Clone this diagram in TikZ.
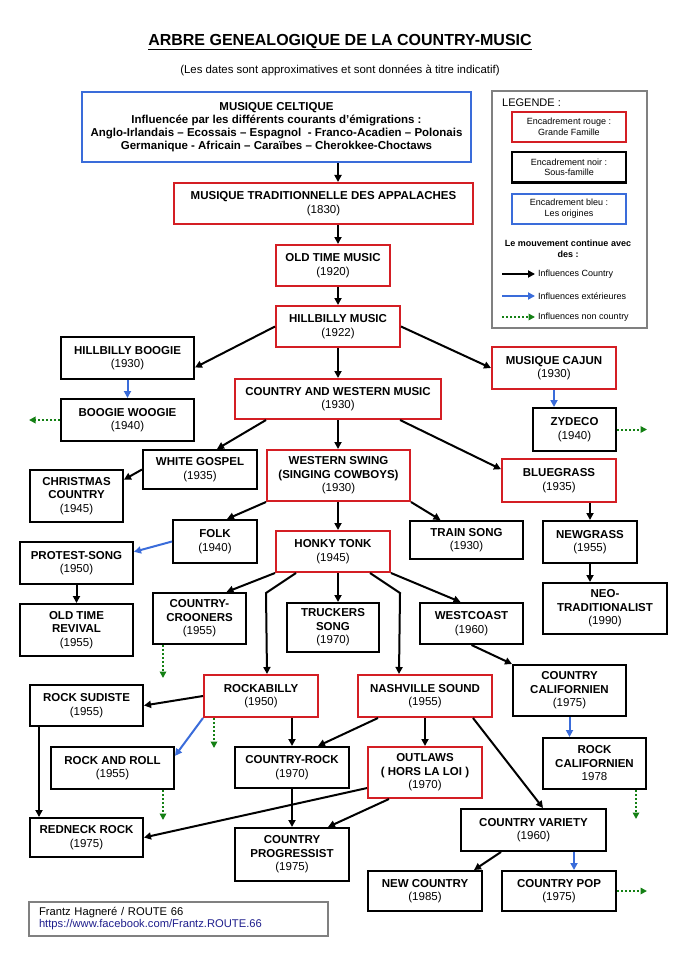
\documentclass[tikz,border=0pt]{standalone}
\usepackage{fontspec}
\setmainfont{Liberation Sans}
\usetikzlibrary{arrows.meta}
\definecolor{boxred}{RGB}{212,30,36}
\definecolor{boxblue}{RGB}{58,108,218}
\definecolor{arrowgreen}{RGB}{20,128,20}
\definecolor{framegray}{RGB}{128,128,128}
\definecolor{linkblue}{RGB}{30,30,140}
\begin{document}
\begin{tikzpicture}[x=1pt, y=-1pt]
  \tikzstyle{box} = [draw=black, line width=2pt, align=center, inner sep=2pt, font=\fontsize{11.5}{13.5}\selectfont\bfseries];
  \tikzstyle{red_box}   = [box, draw=boxred];
  \tikzstyle{black_box} = [box];
  \tikzstyle{blue_box}  = [box, draw=boxblue];
  \tikzstyle{leg_box}   = [draw=black, line width=2pt, minimum width=114, minimum height=30, align=center, font=\fontsize{9}{10.5}\selectfont];
  \tikzstyle{leg_text}  = [anchor=west, inner sep=0pt, font=\fontsize{9}{10.5}\selectfont];
  \tikzstyle{black_arrow} = [line width=2pt, -{Triangle[length=7pt,width=7pt]}];
  \tikzstyle{blue_arrow}  = [black_arrow, color=boxblue];
  \tikzstyle{green_arrow} = [line width=2pt, color=arrowgreen, dotted, -{Triangle[length=6.5pt,width=6.5pt]}];

  \useasboundingbox (0,0) rectangle (679,960);
  \coordinate (spine) at (338,0);

  \node[font=\fontsize{16}{19}\selectfont\bfseries] (title) at (340,42) {\underline{ARBRE GENEALOGIQUE DE LA COUNTRY-MUSIC}};
  \node[font=\fontsize{11.4}{13}\selectfont] (subtitle) at (340,70) {(Les dates sont approximatives et sont données à titre indicatif)};

  \node[draw=framegray, line width=2pt, minimum width=155, minimum height=236] (legend) at (569,209.5) {};
  \node[leg_text, font=\fontsize{11}{13}\selectfont] (legtitle) at (502,103) {LEGENDE :};
  \node[leg_box, draw=boxred]  (legred)   at (569,127)   {Encadrement rouge :\\Grande Famille};
  \node[leg_box]               (legblack) at (569,167.5) {Encadrement noir :\\Sous-famille};
  \node[leg_box, draw=boxblue] (legblue)  at (569,208.5) {Encadrement bleu :\\Les origines};
  \node[align=center, font=\fontsize{9}{10.5}\selectfont\bfseries] (legmove) at (568,249) {Le mouvement continue avec\\des :};
  \node[leg_text] (legcountry) at (538,274) {Influences Country};
  \node[leg_text] (legext)     at (538,296) {Influences extérieures};
  \node[leg_text] (legnon)     at (538,317) {Influences non country};
  \draw[black_arrow] ([xshift=-36]legcountry.west) -- ([xshift=-3]legcountry.west);
  \draw[blue_arrow]  ([xshift=-36]legext.west) -- ([xshift=-3]legext.west);
  \draw[green_arrow] ([xshift=-36]legnon.west) -- ([xshift=-3]legnon.west);

  \node[blue_box, minimum width=389, minimum height=70, font=\fontsize{11.5}{13}\selectfont\bfseries] (celt) at (276.5,127) {MUSIQUE CELTIQUE\\Influencée par les différents courants d’émigrations :\\Anglo-Irlandais – Ecossais – Espagnol~ - Franco-Acadien – Polonais\\Germanique - Africain – Caraïbes – Cherokkee-Choctaws};
  \node[red_box, minimum width=299, minimum height=41] (app)  at (323.5,203.5) {MUSIQUE TRADITIONNELLE DES APPALACHES\\\mdseries(1830)};
  \node[red_box, minimum width=114, minimum height=41] (otm)  at (333,265.5) {OLD TIME MUSIC\\\mdseries(1920)};
  \node[red_box, minimum width=124, minimum height=41] (hm)   at (338,326.5) {HILLBILLY MUSIC\\\mdseries(1922)};
  \node[black_box, minimum width=133, minimum height=42] (hb) at (127.5,358) {HILLBILLY BOOGIE\\\mdseries(1930)};
  \node[black_box, minimum width=133, minimum height=42] (bw) at (127.5,420) {BOOGIE WOOGIE\\\mdseries(1940)};
  \node[red_box, minimum width=124, minimum height=42] (cajun) at (554,368) {MUSIQUE CAJUN\\\mdseries(1930)};
  \node[black_box, minimum width=83, minimum height=43] (zyd) at (574.5,429.5) {ZYDECO\\\mdseries(1940)};
  \node[red_box, minimum width=206, minimum height=40] (cw)   at (338,399) {COUNTRY AND WESTERN MUSIC\\\mdseries(1930)};
  \node[black_box, minimum width=114, minimum height=39] (wg) at (200,469.5) {WHITE GOSPEL\\\mdseries(1935)};
  \node[black_box, minimum width=93, minimum height=52] (xmas) at (76.5,496) {CHRISTMAS\\COUNTRY\\\mdseries(1945)};
  \node[red_box, minimum width=143, minimum height=51] (ws)   at (338.5,475.5) {WESTERN SWING\\(SINGING COWBOYS)\\\mdseries(1930)};
  \node[red_box, minimum width=114, minimum height=43] (bgr)  at (559,480.5) {BLUEGRASS\\\mdseries(1935)};
  \node[black_box, minimum width=84, minimum height=43] (folk) at (215,541.5) {FOLK\\\mdseries(1940)};
  \node[black_box, minimum width=113, minimum height=38] (train) at (466.5,540) {TRAIN SONG\\\mdseries(1930)};
  \node[red_box, minimum width=114, minimum height=41] (ht)   at (333,551.5) {HONKY TONK\\\mdseries(1945)};
  \node[black_box, minimum width=113, minimum height=42] (ps) at (76.5,563) {PROTEST-SONG\\\mdseries(1950)};
  \node[black_box, minimum width=113, minimum height=52] (otr) at (76.5,630) {OLD TIME\\REVIVAL\\\mdseries(1955)};
  \node[black_box, minimum width=94, minimum height=42] (ngr) at (590,542) {NEWGRASS\\\mdseries(1955)};
  \node[black_box, minimum width=124, minimum height=51] (neo) at (605,608.5) {NEO-\\TRADITIONALIST\\\mdseries(1990)};
  \node[black_box, minimum width=93, minimum height=51] (cc) at (199.5,618.5) {COUNTRY-\\CROONERS\\\mdseries(1955)};
  \node[black_box, minimum width=92, minimum height=49] (tr) at (333,627.5) {TRUCKERS\\SONG\\\mdseries(1970)};
  \node[black_box, minimum width=103, minimum height=41] (wc) at (471.5,623.5) {WESTCOAST\\\mdseries(1960)};
  \node[black_box, minimum width=113, minimum height=51] (ccal) at (569.5,690.5) {COUNTRY\\CALIFORNIEN\\\mdseries(1975)};
  \node[red_box, minimum width=114, minimum height=42] (rab)  at (261,696) {ROCKABILLY\\\mdseries(1950)};
  \node[red_box, minimum width=134, minimum height=42] (ns)   at (425,696) {NASHVILLE SOUND\\\mdseries(1955)};
  \node[black_box, minimum width=113, minimum height=41] (rs) at (86.5,705.5) {ROCK SUDISTE\\\mdseries(1955)};
  \node[black_box, minimum width=123, minimum height=42] (rr) at (112.5,768) {ROCK AND ROLL\\\mdseries(1955)};
  \node[black_box, minimum width=114, minimum height=41] (crk) at (292,767.5) {COUNTRY-ROCK\\\mdseries(1970)};
  \node[red_box, minimum width=114, minimum height=51] (outl) at (425,772.5) {OUTLAWS\\( HORS LA LOI )\\\mdseries(1970)};
  \node[black_box, minimum width=103, minimum height=51] (rcal) at (594.5,763.5) {ROCK\\CALIFORNIEN\\\mdseries 1978};
  \node[black_box, minimum width=113, minimum height=39] (rn) at (86.5,837.5) {REDNECK ROCK\\\mdseries(1975)};
  \node[black_box, minimum width=114, minimum height=53] (prog) at (292,854.5) {COUNTRY\\PROGRESSIST\\\mdseries(1975)};
  \node[black_box, minimum width=145, minimum height=42] (cv) at (533.5,830) {COUNTRY VARIETY\\\mdseries(1960)};
  \node[black_box, minimum width=114, minimum height=40] (nc) at (425,891) {NEW COUNTRY\\\mdseries(1985)};
  \node[black_box, minimum width=114, minimum height=40] (cpop) at (559,891) {COUNTRY POP\\\mdseries(1975)};

  \draw[black_arrow] (spine |- celt.south) -- (spine |- app.north);
  \draw[black_arrow] (spine |- app.south) -- (spine |- otm.north);
  \draw[black_arrow] (spine |- otm.south) -- (spine |- hm.north);
  \draw[black_arrow] (spine |- hm.south) -- (spine |- cw.north);
  \draw[black_arrow] (spine |- cw.south) -- (spine |- ws.north);
  \draw[black_arrow] (spine |- ws.south) -- (spine |- ht.north);
  \draw[black_arrow] (spine |- ht.south) -- (spine |- tr.north);
  \draw[black_arrow] (hm.west) -- (hb.-8);
  \draw[black_arrow] (hm.east) -- (cajun.west);
  \draw[blue_arrow] (hb.south) -- (bw.north);
  \draw[green_arrow] (bw.west) -- ++(-31,0);
  \draw[blue_arrow] (cajun.south) -- (cajun.south |- zyd.north);
  \draw[green_arrow] (zyd.east) -- ++(30,0);
  \draw[black_arrow] ([xshift=32]cw.south west) -- ([xshift=17]wg.north);
  \draw[black_arrow] (wg.west) -- (xmas.19);
  \draw[black_arrow] ([xshift=62]cw.south) -- (bgr.169);
  \draw[black_arrow] (ws.south west) -- ([xshift=12]folk.north);
  \draw[black_arrow] (ws.south east) -- ([xshift=-26]train.north);
  \draw[blue_arrow] (folk.west) -- (ps.11);
  \draw[black_arrow] (ps.south) -- (otr.north);
  \draw[black_arrow] (bgr.south -| ngr.north) -- (ngr.north);
  \draw[black_arrow] (ngr.south) -- (ngr.south |- neo.north);
  \draw[black_arrow] (ht.south west) -- ([xshift=27]cc.north);
  \draw[black_arrow] ([xshift=21]ht.south west) -- ++(-30,20) -- ([xshift=6]rab.north);
  \draw[black_arrow] ([xshift=-21]ht.south east) -- ++(30,20) -- ([xshift=-26]ns.north);
  \draw[black_arrow] (ht.south east) -- ([xshift=-11]wc.north);
  \draw[green_arrow] ([xshift=-36.5]cc.south) -- ++(0,33);
  \draw[black_arrow] (wc.south) -- (ccal.north west);
  \draw[blue_arrow] (ccal.south) -- (ccal.south |- rcal.north);
  \draw[green_arrow] ([xshift=41.5]rcal.south) -- ++(0,29);
  \draw[black_arrow] (rab.west) -- (rs.east);
  \draw[blue_arrow] (rab.south west) -- (rr.11);
  \draw[green_arrow] ([xshift=11]rab.south west) -- ++(0,30);
  \draw[green_arrow] ([xshift=50.5]rr.south) -- ++(0,30);
  \draw[black_arrow] ([xshift=10]rs.south west) -- ([xshift=10]rn.north west);
  \draw[black_arrow] (crk.north |- rab.south) -- (crk.north);
  \draw[black_arrow] ([xshift=21]ns.south west) -- ([xshift=26]crk.north);
  \draw[black_arrow] (ns.south) -- (outl.north);
  \draw[black_arrow] ([xshift=-20]ns.south east) -- ([xshift=9.5]cv.north);
  \draw[black_arrow] (outl.195) -- (rn.east);
  \draw[black_arrow] (crk.south) -- (prog.north);
  \draw[black_arrow] ([xshift=22]outl.south west) -- ([xshift=36]prog.north);
  \draw[black_arrow] ([xshift=41]cv.south west) -- ([xshift=-9]nc.north east);
  \draw[blue_arrow] ([xshift=40.5]cv.south) -- ([xshift=15]cpop.north);
  \draw[green_arrow] (cpop.east) -- ++(30,0);

  \node[draw=framegray, line width=1.5pt, minimum width=299, minimum height=34, text width=279, align=left, font=\fontsize{11.2}{12}\selectfont] (foot) at (178.5,919) {Frantz Hagneré / ROUTE 66\\\textcolor{linkblue}{https://www.facebook.com/Frantz.ROUTE.66}};
\end{tikzpicture}
\end{document}
